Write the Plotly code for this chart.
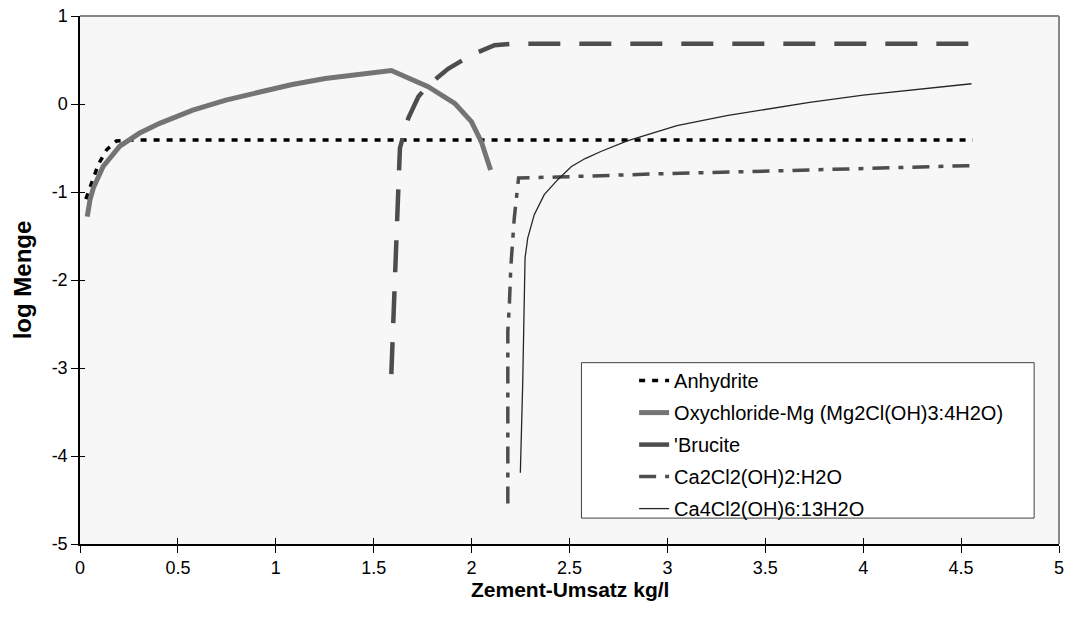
import plotly.graph_objects as go

# Zement-Umsatz (kg/l) and log amounts for each phase
anh_x = [0.03, 0.05, 0.068, 0.093, 0.136, 0.186, 0.25, 1.0, 2.0, 3.0, 4.0, 4.56]
anh_y = [-1.08, -0.95, -0.86, -0.69, -0.52, -0.42, -0.41, -0.41, -0.41, -0.41, -0.41, -0.41]

oxy_x = [0.037, 0.051, 0.068, 0.118, 0.203, 0.305, 0.407, 0.576, 0.745, 0.915,
         1.084, 1.253, 1.423, 1.59, 1.778, 1.914, 1.999, 2.05, 2.097]
oxy_y = [-1.28, -1.09, -0.955, -0.71, -0.48, -0.33, -0.22, -0.07, 0.045, 0.14,
         0.222, 0.29, 0.34, 0.38, 0.196, 0.007, -0.2, -0.43, -0.75]

bru_x = [1.59, 1.609, 1.626, 1.634, 1.646, 1.677, 1.728, 1.778, 1.88, 1.998,
         2.117, 2.219, 3.0, 4.0, 4.57]
bru_y = [-3.07, -2.09, -0.955, -0.5, -0.39, -0.16, 0.083, 0.215, 0.4, 0.555,
         0.668, 0.685, 0.685, 0.685, 0.685]

ca2_x = [2.185, 2.185, 2.193, 2.2, 2.218, 2.236, 2.24, 2.44, 2.69, 3.0, 3.557, 4.0, 4.55]
ca2_y = [-4.54, -2.58, -2.28, -1.86, -1.295, -0.92, -0.84, -0.83, -0.81, -0.79, -0.76, -0.73, -0.70]

ca4_x = [2.249, 2.261, 2.273, 2.287, 2.32, 2.371, 2.44, 2.51, 2.58, 2.66,
         2.795, 3.049, 3.303, 3.557, 3.726, 4.0, 4.3, 4.553]
ca4_y = [-4.19, -3.18, -1.75, -1.52, -1.257, -1.03, -0.86, -0.71, -0.62, -0.54,
         -0.42, -0.246, -0.132, -0.042, 0.018, 0.1, 0.17, 0.23]

x_ticks = [0, 0.5, 1, 1.5, 2, 2.5, 3, 3.5, 4, 4.5, 5]
x_tick_labels = ["0", "0.5", "1", "1.5", "2", "2.5", "3", "3.5", "4", "4.5", "5"]
y_ticks = [-5, -4, -3, -2, -1, 0, 1]
y_tick_labels = ["-5", "-4", "-3", "-2", "-1", "0", "1"]

x_title = "Zement-Umsatz kg/l"
y_title = "log Menge"

FONT = "Liberation Sans, Arial, sans-serif"

fig = go.Figure()

series = [
    ("Anhydrite", anh_x, anh_y, dict(color="#000000", width=3.5, dash="6px,7px")),
    ("Oxychloride-Mg (Mg2Cl(OH)3:4H2O)", oxy_x, oxy_y, dict(color="#747474", width=5)),
    ("'Brucite", bru_x, bru_y, dict(color="#4d4d4d", width=4.5, dash="32px,19px")),
    ("Ca2Cl2(OH)2:H2O", ca2_x, ca2_y, dict(color="#4d4d4d", width=3.5, dash="17px,9px,5px,9px")),
    ("Ca4Cl2(OH)6:13H2O", ca4_x, ca4_y, dict(color="#262626", width=1.3)),
]
for i, (name, xs, ys, line) in enumerate(series):
    fig.add_trace(go.Scatter(x=xs, y=ys, mode="lines", name=name, line=line,
                             legendgroup=f"g{i}", hoverinfo="skip"))

# overlay axes carrying the inner half of the cross ticks
fig.add_trace(go.Scatter(x=[None], y=[None], xaxis="x2", yaxis="y2",
                         showlegend=False, hoverinfo="skip"))

axis_common = dict(showgrid=False, zeroline=False, linecolor="#000000", linewidth=1.5,
                   ticks="outside", ticklen=7, tickwidth=1.2, tickcolor="#000000",
                   tickfont=dict(family=FONT, size=18, color="#000000"))

fig.update_layout(
    width=1070, height=629,
    margin=dict(l=80, r=6, t=14, b=85),
    paper_bgcolor="#ffffff",
    plot_bgcolor="#f7f7f7",
    font=dict(family=FONT, color="#000000"),
    xaxis=dict(range=[0, 5], tickvals=x_ticks, ticktext=x_tick_labels, showline=True,
               ticklabelstandoff=0, **axis_common),
    yaxis=dict(range=[-5, 1], tickvals=y_ticks, ticktext=y_tick_labels, showline=True,
               **axis_common),
    xaxis2=dict(range=[0, 5], overlaying="x", anchor="y2", tickvals=x_ticks,
                showticklabels=False, showgrid=False, zeroline=False, showline=False,
                ticks="inside", ticklen=6, tickwidth=1.2, tickcolor="#000000", side="bottom"),
    yaxis2=dict(range=[-5, 1], overlaying="y", anchor="x2", tickvals=y_ticks,
                showticklabels=False, showgrid=False, zeroline=False, showline=False,
                ticks="inside", ticklen=5, tickwidth=1.2, tickcolor="#000000", side="left"),
    legend=dict(x=0.566, y=0.3464, xanchor="left", yanchor="top",
                bgcolor="rgba(0,0,0,0)", borderwidth=0,
                traceorder="grouped", tracegroupgap=3,
                font=dict(family=FONT, size=20, color="#000000")),
    annotations=[
        dict(text=f"<b>{x_title}</b>", xref="paper", yref="paper",
             x=0.5, y=-46 / 530, xanchor="center", yanchor="middle", showarrow=False,
             font=dict(family=FONT, size=21, color="#000000")),
        dict(text=f"<b>{y_title}</b>", xref="paper", yref="paper",
             x=-58 / 984, y=0.5, xanchor="center", yanchor="middle", showarrow=False,
             textangle=-90, font=dict(family=FONT, size=24, color="#000000")),
    ],
    shapes=[
        # legend frame
        dict(type="rect", xref="paper", yref="paper",
             x0=(584 - 80) / 984, x1=(1039 - 80) / 984,
             y0=(544 - 518) / 530, y1=(544 - 362) / 530,
             fillcolor="#ffffff", line=dict(color="#404040", width=1), layer="below"),
        # top and right frame of the plot area
        dict(type="line", xref="paper", yref="paper", x0=0, x1=1, y0=1, y1=1,
             line=dict(color="#888888", width=2)),
        dict(type="line", xref="paper", yref="paper", x0=1, x1=1, y0=0, y1=1,
             line=dict(color="#888888", width=2)),
    ],
)

fig.write_html("out.html")
